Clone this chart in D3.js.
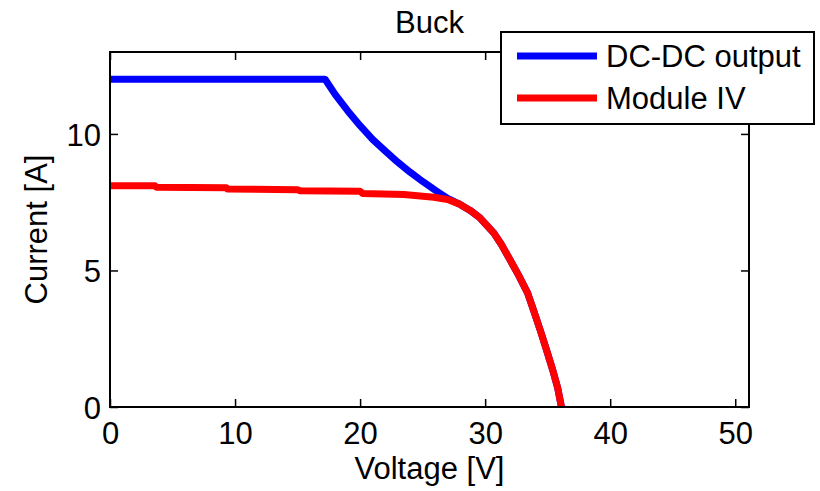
<!DOCTYPE html>
<html><head><meta charset="utf-8">
<script src="https://cdn.jsdelivr.net/npm/d3@7"></script>
<style>body{margin:0;background:#fff}svg{display:block}text{font-family:"Liberation Sans",Arial,sans-serif;fill:#000}</style>
</head><body><svg id="c" width="820" height="491"></svg>
<script>
const title = "Buck";
const xLabel = "Voltage [V]";
const yLabel = "Current [A]";
const xTicks = [0,10,20,30,40,50];
const yTicks = [0,5,10];
const seriesNames = ["DC-DC output","Module IV"];
const seriesColors = ["#0000ff","#ff0000"];
// Module IV curve (V, I)
const moduleV = [0,3.6,3.7,9.3,9.4,15,15.2,20,20.2,23.5,25.9,27,28,28.8,29.6,30.7,31.3,32,32.7,33.4,33.9,34.4,34.9,35.4,35.8,36.1];
const moduleI = [8.1,8.1,8.05,8.03,7.98,7.96,7.92,7.9,7.82,7.78,7.68,7.6,7.42,7.2,6.92,6.37,5.95,5.38,4.8,4.17,3.5,2.82,2.1,1.36,0.7,0];
// DC-DC output curve (V, I)
const dcdcV = [0,17.2,18,19,20,21,22,23,24,25,26,27,28,28.8,29.6,30.7,31.3,32,32.7,33.4,33.9,34.4,34.9,35.4,35.8,36.1];
const dcdcI = [12,12,11.45,10.85,10.3,9.8,9.38,8.97,8.6,8.26,7.94,7.64,7.42,7.2,6.92,6.37,5.95,5.38,4.8,4.17,3.5,2.82,2.1,1.36,0.7,0];

const svg = d3.select("#c");
const L=110,R=749,T=52,B=407;
const x = d3.scaleLinear().domain([0,51.1]).range([L,R]);
const y = d3.scaleLinear().domain([0,13]).range([B,T]);
const fs = 31;

const series = [
  {name:seriesNames[0], color:seriesColors[0], pts:dcdcV.map((v,i)=>[v,dcdcI[i]])},
  {name:seriesNames[1], color:seriesColors[1], pts:moduleV.map((v,i)=>[v,moduleI[i]])}
];
const line = d3.line().x(d=>x(d[0])).y(d=>y(d[1]));
series.forEach(s=>{
  svg.append("path").attr("d",line(s.pts)).attr("fill","none")
    .attr("stroke",s.color).attr("stroke-width",7).attr("stroke-linejoin","round");
});

// axes
const tl = 8;
const gB = svg.append("g").attr("transform",`translate(0,${B})`)
  .call(d3.axisBottom(x).tickValues(xTicks).tickSize(-tl).tickPadding(14).tickFormat(d3.format("d")));
const gT = svg.append("g").attr("transform",`translate(0,${T})`)
  .call(d3.axisTop(x).tickValues(xTicks).tickSize(-tl).tickFormat(""));
const gL = svg.append("g").attr("transform",`translate(${L},0)`)
  .call(d3.axisLeft(y).tickValues(yTicks).tickSize(-tl).tickPadding(9).tickFormat(d3.format("d")));
const gR = svg.append("g").attr("transform",`translate(${R},0)`)
  .call(d3.axisRight(y).tickValues(yTicks).tickSize(-tl).tickFormat(""));
[gB,gT,gL,gR].forEach(g=>{
  g.select(".domain").remove();
  g.selectAll(".tick line").attr("stroke","#000").attr("stroke-width",1.5);
  g.selectAll("text").attr("font-size",fs).attr("font-family","Liberation Sans, Arial, sans-serif").attr("fill","#000");
});
gB.selectAll("text").attr("dy",null).attr("y",null).attr("dominant-baseline","auto").attr("transform","translate(0,37)");
gL.selectAll("text").attr("dy","0.36em");
svg.append("rect").attr("x",L).attr("y",T).attr("width",R-L).attr("height",B-T)
  .attr("fill","none").attr("stroke","#000").attr("stroke-width",2);

// labels
svg.append("text").attr("x",(L+R)/2).attr("y",33).attr("text-anchor","middle").attr("font-size",fs).text(title);
svg.append("text").attr("x",(L+R)/2).attr("y",479).attr("text-anchor","middle").attr("font-size",fs).text(xLabel);
svg.append("text").attr("transform",`translate(47,${(T+B)/2}) rotate(-90)`).attr("text-anchor","middle").attr("font-size",fs).text(yLabel);

// legend
const lg = svg.append("g");
lg.append("rect").attr("x",501).attr("y",32).attr("width",313).attr("height",92)
  .attr("fill","#fff").attr("stroke","#000").attr("stroke-width",2);
series.forEach((s,i)=>{
  const ly = 56 + i*42;
  lg.append("line").attr("x1",517).attr("x2",597).attr("y1",ly).attr("y2",ly)
    .attr("stroke",s.color).attr("stroke-width",7);
  lg.append("text").attr("x",606).attr("y",ly+11).attr("font-size",fs).text(s.name);
});
</script></body></html>
